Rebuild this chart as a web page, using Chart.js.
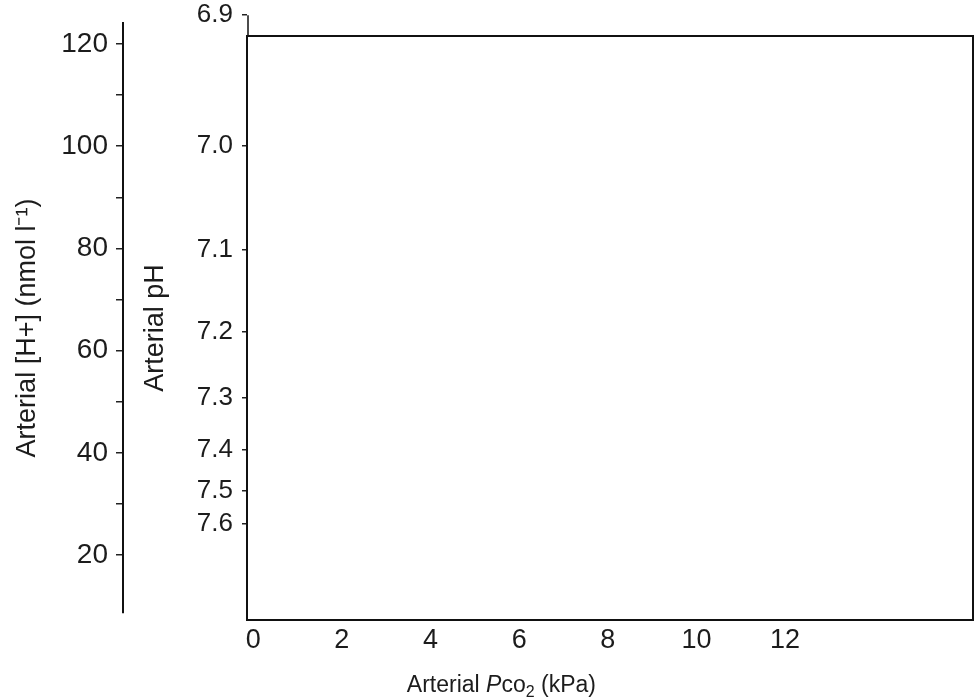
<!DOCTYPE html>
<html>
<head>
<meta charset="utf-8">
<script src="https://cdn.jsdelivr.net/npm/chart.js@4.4.1/dist/chart.umd.min.js"></script>
<style>
html, body { margin: 0; padding: 0; background: #fff; }
#wrap { width: 974px; height: 698px; }
</style>
</head>
<body>
<div id="wrap"><canvas id="acidBase" width="974" height="698"></canvas></div>
<script>
// x axis: arterial Pco2 ticks (kPa)
const pco2Ticks = [0, 2, 4, 6, 8, 10, 12];
// outer y axis: arterial [H+] (nmol/l), labelled + unlabelled ticks
const hLabelled = [20, 40, 60, 80, 100, 120];
const hMinor = [30, 50, 70, 90, 110];
// inner y axis: arterial pH
const phTicks = [6.9, 7.0, 7.1, 7.2, 7.3, 7.4, 7.5, 7.6];

// empty diagram, nothing plotted
const pco2Values = [];
const hValues = [];

const phToH = ph => Math.pow(10, 9 - ph);
const hToPh = h => 9 - Math.log10(h);

const FONT = '"Liberation Sans", Arial, sans-serif';
const INK = '#1c1c1c';

// [H+] axis line runs a little beyond the plot box
const hAxisSpan = [8.6, 124.3];

const frame = {
  id: 'frame',
  afterDraw(chart) {
    const { ctx, chartArea: a, scales } = chart;
    ctx.save();
    ctx.strokeStyle = '#111';
    ctx.lineWidth = 2;
    ctx.strokeRect(a.left, a.top, a.right - a.left, a.bottom - a.top);

    const h = scales.h;
    ctx.beginPath();
    ctx.moveTo(h.right, h.getPixelForValue(hAxisSpan[0]));
    ctx.lineTo(h.right, h.getPixelForValue(hAxisSpan[1]));
    ctx.stroke();

    // pH axis reaches up to its 6.9 tick
    const ph = scales.ph;
    ctx.lineWidth = 1.5;
    ctx.beginPath();
    ctx.moveTo(a.left + 1, ph.getPixelForValue(phToH(phTicks[0])));
    ctx.lineTo(a.left + 1, a.top);
    ctx.stroke();

    // x title with italic P and subscript 2
    const x = scales.x;
    const parts = [
      { t: 'Arterial ', f: '23px ' + FONT, dy: 0 },
      { t: 'P', f: 'italic 23px ' + FONT, dy: 0 },
      { t: 'co', f: '23px ' + FONT, dy: 0 },
      { t: '2', f: '16px ' + FONT, dy: 7 },
      { t: ' (kPa)', f: '23px ' + FONT, dy: 0 }
    ];
    let w = 0;
    parts.forEach(p => { ctx.font = p.f; p.w = ctx.measureText(p.t).width; w += p.w; });
    let cx = x.getPixelForValue(5.6) - w / 2;
    const cy = x.top + 66;
    ctx.fillStyle = INK;
    ctx.textBaseline = 'middle';
    ctx.textAlign = 'left';
    parts.forEach(p => { ctx.font = p.f; ctx.fillText(p.t, cx, cy + p.dy); cx += p.w; });
    ctx.restore();
  }
};

new Chart(document.getElementById('acidBase'), {
  type: 'scatter',
  data: {
    datasets: [{
      data: pco2Values.map((v, i) => ({ x: v, y: hValues[i] })),
      yAxisID: 'h'
    }]
  },
  options: {
    responsive: false,
    devicePixelRatio: 1,
    animation: false,
    layout: { padding: { left: 0, right: 1, top: 36, bottom: 0 } },
    plugins: { legend: { display: false }, tooltip: { enabled: false } },
    scales: {
      x: {
        type: 'linear',
        min: -0.14,
        max: 16.24,
        afterBuildTicks: s => { s.ticks = pco2Ticks.map(v => ({ value: v })); },
        afterFit: s => { s.height = 78; },
        grid: { display: false, drawTicks: false },
        border: { display: false },
        ticks: {
          autoSkip: false, maxRotation: 0, padding: 4,
          color: INK, font: { family: FONT, size: 27 }
        }
      },
      h: {
        type: 'linear',
        position: 'left',
        weight: 2,
        min: 7.28,
        max: 121.57,
        afterBuildTicks: s => {
          s.ticks = hLabelled.concat(hMinor).sort((a, b) => a - b).map(v => ({ value: v }));
        },
        afterFit: s => { s.width = 123; },
        grid: { drawOnChartArea: false, tickLength: 7, color: '#222', lineWidth: 1.5 },
        border: { display: false },
        ticks: {
          autoSkip: false, padding: 8, color: INK,
          font: { family: FONT, size: 28 },
          callback: v => hLabelled.includes(v) ? String(v) : ''
        },
        title: {
          display: true,
          text: 'Arterial [H+] (nmol l\u207B\u00B9)',
          color: INK,
          font: { family: FONT, size: 27 },
          padding: { top: 11, bottom: 0 }
        }
      },
      ph: {
        type: 'linear',
        position: 'left',
        weight: 1,
        min: 6.11,
        max: 121.76,
        afterBuildTicks: s => { s.ticks = phTicks.map(p => ({ value: phToH(p) })); },
        afterFit: s => { s.width = 124; },
        grid: { drawOnChartArea: false, tickLength: 5, color: '#222', lineWidth: 1.5 },
        border: { display: false },
        ticks: {
          autoSkip: false, padding: 9, color: INK,
          font: { family: FONT, size: 26 },
          callback: v => hToPh(v).toFixed(1)
        },
        title: {
          display: true,
          text: 'Arterial pH',
          color: INK,
          font: { family: FONT, size: 27 },
          padding: { top: 16, bottom: 0 }
        }
      }
    }
  },
  plugins: [frame]
});
</script>
</body>
</html>
